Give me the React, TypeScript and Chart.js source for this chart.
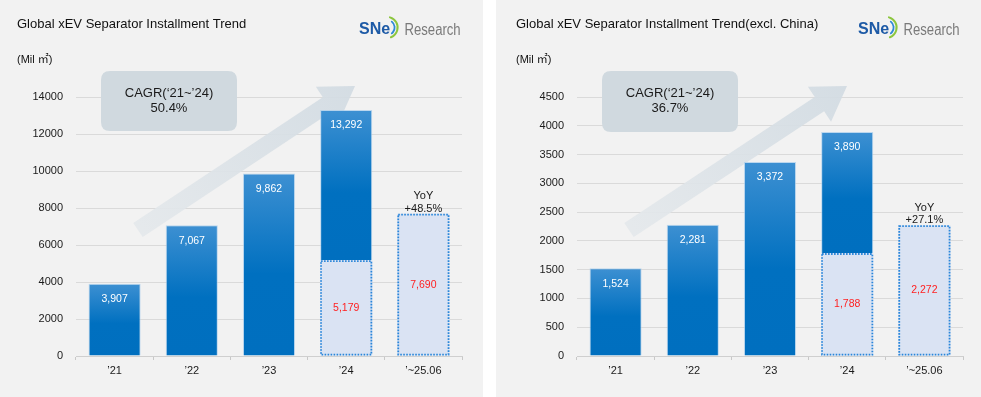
import React, { useEffect, useRef } from 'react';
import { Chart, registerables } from 'chart.js';

Chart.register(...registerables);

// ---------- data ----------
const categories = ['’21', '’22', '’23', '’24', '’~25.06'];

const globalTitle = 'Global xEV Separator Installment Trend';
const globalTotals: (number | null)[] = [3907, 7067, 9862, 13292, null];
const globalH1: (number | null)[] = [null, null, null, 5179, 7690];
const globalYTicks = [0, 2000, 4000, 6000, 8000, 10000, 12000, 14000];
const globalCagr = '50.4%';
const globalYoy = '+48.5%';

const exTitle = 'Global xEV Separator Installment Trend(excl. China)';
const exTotals: (number | null)[] = [1524, 2281, 3372, 3890, null];
const exH1: (number | null)[] = [null, null, null, 1788, 2272];
const exYTicks = [0, 500, 1000, 1500, 2000, 2500, 3000, 3500, 4000, 4500];
const exCagr = '36.7%';
const exYoy = '+27.1%';

const cagrLabel = 'CAGR(‘21~’24)';
const yoyLabel = 'YoY';
const unitLabel = '(Mil ㎡)';

const FONT = 'Arial, "Liberation Sans", "Noto Sans CJK KR", sans-serif';

type PanelCfg = {
  title: string;
  totals: (number | null)[];
  h1: (number | null)[];
  yTicks: number[];
  cagr: string;
  yoy: string;
  left: number;
  width: number;
  areaLeft: number;
  areaRight: number;
  titleX: number;
  logoX: number;
  arrowTail: [number, number];
  arrowTip: [number, number];
  box: [number, number, number, number];
};

const fmt = (v: number) => v.toLocaleString('en-US');

function drawArrow(c: CanvasRenderingContext2D, tail: [number, number], tip: [number, number]) {
  const shaftHW = 8.5, headHW = 21, headLen = 33;
  const dx = tip[0] - tail[0], dy = tip[1] - tail[1];
  const L = Math.hypot(dx, dy);
  const ux = dx / L, uy = dy / L, nx = -uy, ny = ux;
  const bx = tip[0] - ux * headLen, by = tip[1] - uy * headLen;
  c.save();
  c.beginPath();
  c.moveTo(tail[0] + nx * shaftHW, tail[1] + ny * shaftHW);
  c.lineTo(bx + nx * shaftHW, by + ny * shaftHW);
  c.lineTo(bx + nx * headHW, by + ny * headHW);
  c.lineTo(tip[0], tip[1]);
  c.lineTo(bx - nx * headHW, by - ny * headHW);
  c.lineTo(bx - nx * shaftHW, by - ny * shaftHW);
  c.lineTo(tail[0] - nx * shaftHW, tail[1] - ny * shaftHW);
  c.closePath();
  const g = c.createLinearGradient(tail[0], tail[1], tip[0], tip[1]);
  g.addColorStop(0, 'rgba(228,232,235,0.95)');
  g.addColorStop(1, 'rgba(210,219,226,0.95)');
  c.fillStyle = g;
  c.fill();
  c.restore();
}

function roundRect(c: CanvasRenderingContext2D, x: number, y: number, w: number, h: number, r: number) {
  c.beginPath();
  c.moveTo(x + r, y);
  c.lineTo(x + w - r, y);
  c.quadraticCurveTo(x + w, y, x + w, y + r);
  c.lineTo(x + w, y + h - r);
  c.quadraticCurveTo(x + w, y + h, x + w - r, y + h);
  c.lineTo(x + r, y + h);
  c.quadraticCurveTo(x, y + h, x, y + h - r);
  c.lineTo(x, y + r);
  c.quadraticCurveTo(x, y, x + r, y);
  c.closePath();
}

function drawLogo(c: CanvasRenderingContext2D, x: number) {
  c.save();
  c.textAlign = 'left';
  c.textBaseline = 'alphabetic';
  c.font = `bold 16px ${FONT}`;
  c.fillStyle = '#1d5aa6';
  c.fillText('SNe', x, 33.5);
  const w = c.measureText('SNe').width;
  const cx = x + w - 3, cy = 27.5;
  c.lineCap = 'round';
  c.strokeStyle = '#2f8ad6';
  c.lineWidth = 1.8;
  c.beginPath();
  c.arc(cx, cy, 7.5, -0.9, 0.9);
  c.stroke();
  c.strokeStyle = '#8cc63e';
  c.lineWidth = 2;
  c.beginPath();
  c.arc(cx, cy, 10.5, -1.3, 1.2);
  c.stroke();
  c.translate(x + 45.5, 35);
  c.scale(0.82, 1);
  c.font = `16px ${FONT}`;
  c.fillStyle = '#7a7a7a';
  c.fillText('Research', 0, 0);
  c.restore();
}

function makePlugin(cfg: PanelCfg) {
  return {
    id: 'deco',
    beforeDatasetsDraw(chart: any) {
      const c: CanvasRenderingContext2D = chart.ctx;
      drawArrow(c, cfg.arrowTail, cfg.arrowTip);
      const [bx, by, bw, bh] = cfg.box;
      c.save();
      roundRect(c, bx, by, bw, bh, 9);
      c.fillStyle = '#d0d9df';
      c.fill();
      c.fillStyle = '#1a1a1a';
      c.font = `13px ${FONT}`;
      c.textAlign = 'center';
      c.textBaseline = 'middle';
      c.fillText(cagrLabel, bx + bw / 2, by + 22);
      c.fillText(cfg.cagr, bx + bw / 2, by + 37);
      c.restore();
    },
    afterDatasetsDraw(chart: any) {
      const c: CanvasRenderingContext2D = chart.ctx;
      c.save();
      // dotted boxes
      const dMeta = chart.getDatasetMeta(1);
      dMeta.data.forEach((el: any, i: number) => {
        if (cfg.h1[i] == null) return;
        const p = el.getProps(['x', 'y', 'base', 'width'], true);
        const l = p.x - p.width / 2;
        const top = Math.min(p.y, p.base);
        const bot = Math.max(p.y, p.base);
        c.setLineDash([1.6, 1.4]);
        c.lineWidth = 1.8;
        c.strokeStyle = '#2a86d9';
        c.strokeRect(l + 0.9, top + 0.9, p.width - 1.8, bot - top - 1.8);
      });
      c.setLineDash([]);
      c.textAlign = 'center';
      c.textBaseline = 'middle';
      // solid labels
      const sMeta = chart.getDatasetMeta(0);
      c.font = `10.5px ${FONT}`;
      sMeta.data.forEach((el: any, i: number) => {
        const v = cfg.totals[i];
        if (v == null) return;
        const p = el.getProps(['x', 'y', 'base'], true);
        const top = Math.min(p.y, p.base);
        c.fillStyle = '#ffffff';
        c.fillText(fmt(v), p.x, top + 15.5);
      });
      dMeta.data.forEach((el: any, i: number) => {
        const v = cfg.h1[i];
        if (v == null) return;
        const p = el.getProps(['x', 'y', 'base'], true);
        const top = Math.min(p.y, p.base);
        const bot = Math.max(p.y, p.base);
        c.font = `10.5px ${FONT}`;
        c.fillStyle = '#ff1f1f';
        c.fillText(fmt(v), p.x, (top + bot) / 2);
        if (cfg.totals[i] == null) {
          c.font = `11px ${FONT}`;
          c.fillStyle = '#1a1a1a';
          c.fillText(yoyLabel, p.x, top - 17.5);
          c.fillText(cfg.yoy, p.x, top - 5);
        }
      });
      c.restore();
    },
    afterDraw(chart: any) {
      const c: CanvasRenderingContext2D = chart.ctx;
      c.save();
      c.textAlign = 'left';
      c.textBaseline = 'middle';
      c.fillStyle = '#111111';
      c.font = `13px ${FONT}`;
      c.fillText(cfg.title, cfg.titleX, 24);
      c.font = `11px ${FONT}`;
      c.fillText(unitLabel, cfg.titleX, 60);
      c.restore();
      drawLogo(c, cfg.logoX);
    },
  };
}

function solidColor(ctx: any) {
  const chart = ctx.chart;
  const raw = ctx.raw;
  if (!chart.chartArea || !raw || !chart.scales || !chart.scales.y) return '#0070c0';
  const ys = chart.scales.y;
  const top = ys.getPixelForValue(raw[1]);
  const bot = ys.getPixelForValue(raw[0]);
  if (!isFinite(top) || !isFinite(bot) || top === bot) return '#0070c0';
  const g = chart.ctx.createLinearGradient(0, top, 0, bot);
  g.addColorStop(0, '#3d90d2');
  g.addColorStop(0.55, '#0070c0');
  g.addColorStop(1, '#006fbf');
  return g;
}

function Panel({ cfg }: { cfg: PanelCfg }) {
  const ref = useRef<HTMLCanvasElement>(null);
  useEffect(() => {
    const canvas = ref.current!;
    const solid = cfg.totals.map((t, i) => (t == null ? null : [cfg.h1[i] != null ? (cfg.h1[i] as number) : 0, t]));
    const dotted = cfg.h1.map((v) => (v == null ? null : [0, v]));
    const yMax = cfg.yTicks[cfg.yTicks.length - 1];
    const chart = new Chart(canvas, {
      type: 'bar',
      data: {
        labels: categories,
        datasets: [
          {
            label: 'total',
            data: solid as any,
            grouped: false,
            backgroundColor: solidColor,
            borderWidth: { top: 1, left: 1, right: 1, bottom: 0 },
            borderColor: 'rgba(170,205,236,0.75)',
            borderSkipped: false,
            barPercentage: 0.675,
            categoryPercentage: 1,
            order: 1,
          } as any,
          {
            label: 'h1',
            data: dotted as any,
            grouped: false,
            backgroundColor: '#dae3f3',
            borderWidth: 0,
            barPercentage: 0.675,
            categoryPercentage: 1,
            order: 0,
          } as any,
        ],
      },
      options: {
        responsive: false,
        maintainAspectRatio: false,
        animation: false,
        layout: { padding: { top: 97, left: 0, right: cfg.width - cfg.areaRight, bottom: 11 } },
        plugins: {
          legend: { display: false },
          tooltip: { enabled: false },
          title: { display: false },
        },
        scales: {
          x: {
            grid: { display: true, drawOnChartArea: false, drawTicks: true, tickLength: 4, offset: true, color: '#c8c8c8' },
            border: { display: true, color: '#cfcfcf' },
            ticks: { font: { family: FONT, size: 11 }, color: '#1a1a1a', padding: 4.5 },
            afterFit: (s: any) => {
              s.height = 30;
            },
          },
          y: {
            min: 0,
            max: yMax,
            grid: { color: '#dadada', drawTicks: false },
            border: { display: false },
            ticks: {
              font: { family: FONT, size: 11 },
              color: '#1a1a1a',
              padding: 13,
              callback: (v: any) => String(v),
            },
            afterBuildTicks: (s: any) => {
              s.ticks = cfg.yTicks.map((v) => ({ value: v }));
            },
            afterFit: (s: any) => {
              s.width = cfg.areaLeft;
            },
          },
        },
      } as any,
      plugins: [makePlugin(cfg) as any],
    });
    return () => chart.destroy();
  }, [cfg]);
  return (
    <div
      style={{
        position: 'absolute',
        left: cfg.left,
        top: 0,
        width: cfg.width,
        height: 397,
        background: '#f2f2f2',
      }}
    >
      <canvas ref={ref} width={cfg.width} height={397} style={{ display: 'block' }} />
    </div>
  );
}

const leftCfg: PanelCfg = {
  title: globalTitle,
  totals: globalTotals,
  h1: globalH1,
  yTicks: globalYTicks,
  cagr: globalCagr,
  yoy: globalYoy,
  left: 0,
  width: 483,
  areaLeft: 76,
  areaRight: 462,
  titleX: 17,
  logoX: 359,
  arrowTail: [138, 230],
  arrowTip: [355, 86],
  box: [101, 71, 136, 60],
};

const rightCfg: PanelCfg = {
  title: exTitle,
  totals: exTotals,
  h1: exH1,
  yTicks: exYTicks,
  cagr: exCagr,
  yoy: exYoy,
  left: 496,
  width: 485,
  areaLeft: 81,
  areaRight: 467,
  titleX: 20,
  logoX: 362,
  arrowTail: [133, 230],
  arrowTip: [351, 86],
  box: [106, 71, 136, 61],
};

export default function App() {
  useEffect(() => {
    document.body.style.margin = '0';
  }, []);
  return (
    <div style={{ position: 'relative', width: 981, height: 397, background: '#ffffff', overflow: 'hidden' }}>
      <Panel cfg={leftCfg} />
      <Panel cfg={rightCfg} />
    </div>
  );
}
